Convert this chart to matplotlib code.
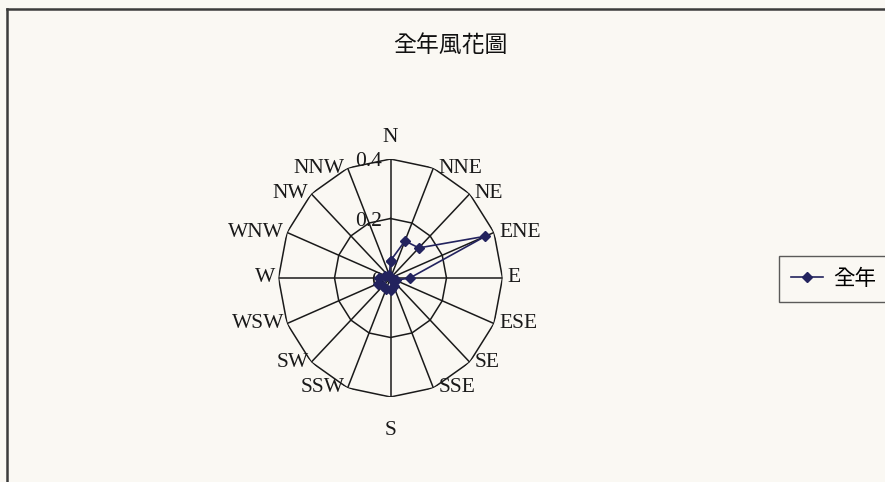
import numpy as np
import matplotlib.pyplot as plt
from matplotlib.lines import Line2D

# 16-point wind rose, annual frequency
directions = ['N', 'NNE', 'NE', 'ENE', 'E', 'ESE', 'SE', 'SSE',
              'S', 'SSW', 'SW', 'WSW', 'W', 'WNW', 'NW', 'NNW']
freq = [0.058, 0.135, 0.143, 0.367, 0.069, 0.02, 0.02, 0.03,
        0.04, 0.04, 0.04, 0.05, 0.04, 0.02, 0.01, 0.01]
r_ticks = [0, 0.2, 0.4]
r_labels = ['0', '0.2', '0.4']
title = '全年風花圖'
series_name = '全年'

bg = '#faf8f3'
navy = '#23235e'
cjk = ['Noto Sans CJK TC', 'DejaVu Sans']
serif = 'Liberation Serif'

W, H = 885, 482
fig = plt.figure(figsize=(W / 100, H / 100), dpi=100, facecolor=bg)

# chart frame (only top and left edges are inside the image)
fig.add_artist(Line2D([7 / W, 1], [1 - 9 / H, 1 - 9 / H], color='#3c3c3c', lw=1.8))
fig.add_artist(Line2D([7 / W, 7 / W], [1 - 9 / H, 0], color='#3c3c3c', lw=1.8))

fig.text(450 / W, 1 - 45 / H, title, fontsize=16.5, family=cjk,
         ha='center', va='center', color='#111111')

cx, cy, rx, ry = 390.5, 278, 112, 119
ax = fig.add_axes([(cx - rx) / W, (H - cy - ry) / H, 2 * rx / W, 2 * ry / H],
                  projection='polar')
ax.set_aspect('auto')
ax.set_theta_zero_location('N')
ax.set_theta_direction(-1)
ax.set_ylim(0, 0.4)
ax.patch.set_alpha(0)
ax.grid(False)
ax.spines['polar'].set_visible(False)
ax.set_xticks([])
ax.set_yticks([])

theta = np.deg2rad(np.arange(len(directions)) * 360 / len(directions))
th_closed = np.append(theta, theta[0])

# polygon rings and spokes
for r in r_ticks[1:]:
    ax.plot(th_closed, [r] * len(th_closed), color='#1a1a1a', lw=1.1, zorder=1)
for t in theta:
    ax.plot([t, t], [0, r_ticks[-1]], color='#1a1a1a', lw=1.1, zorder=1)

# direction labels
for t, name in zip(theta, directions):
    s, c = np.sin(t), np.cos(t)
    if abs(s) < 0.1:
        ha = 'center'
        va = 'bottom' if c > 0 else 'top'
        off = (0, 12) if c > 0 else (0, -24)
    else:
        ha = 'left' if s > 0 else 'right'
        va = 'center'
        off = (5 if s > 0 else -3, 0)
    ax.annotate(name, (t, r_ticks[-1]), xytext=off, textcoords='offset pixels',
                ha=ha, va=va, fontsize=15.5, family=serif, color='#1a1a1a',
                annotation_clip=False)

# value axis labels along N spoke
for r, lab in zip(r_ticks, r_labels):
    ax.annotate(lab, (0, r), xytext=(-8, -3), textcoords='offset pixels',
                ha='right', va='center', fontsize=15.5, family=serif,
                color='#1a1a1a', annotation_clip=False)

f_closed = np.append(freq, freq[0])
ax.plot(th_closed, f_closed, color=navy, lw=1.2, marker='D', markersize=5.5,
        markerfacecolor=navy, markeredgecolor=navy, label=series_name, zorder=3)

leg = fig.legend(loc='center left', bbox_to_anchor=(779 / W, 1 - 279 / H),
                 prop={'family': cjk, 'size': 15.5}, frameon=True, fancybox=False,
                 handlelength=1.5, borderpad=0.55, handletextpad=0.45,
                 borderaxespad=0)
leg.get_frame().set_edgecolor('#333333')
leg.get_frame().set_facecolor(bg)
leg.get_frame().set_linewidth(1.0)

fig.savefig('out.png', dpi=100, facecolor=bg)
